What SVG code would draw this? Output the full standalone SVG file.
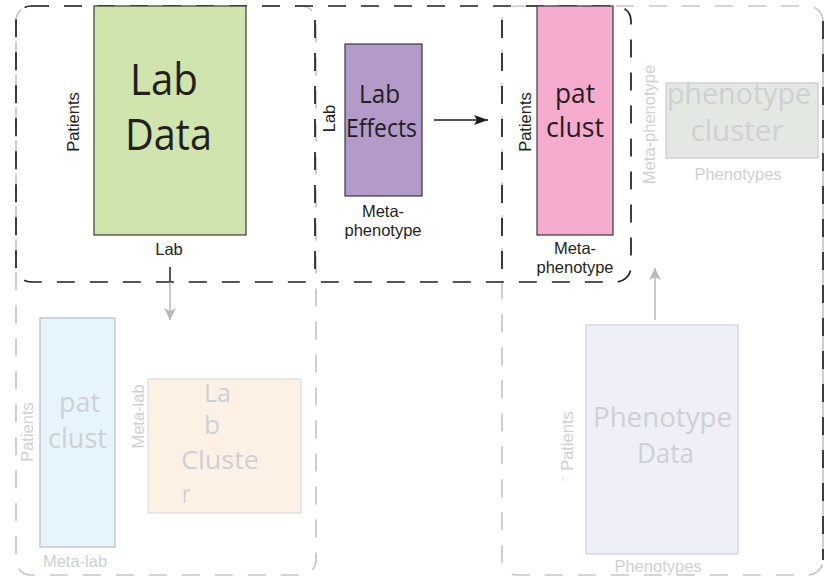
<svg xmlns="http://www.w3.org/2000/svg" width="825" height="578" viewBox="0 0 825 578">
  <style>
    .frame { fill: none; stroke-width: 1.7; stroke-dasharray: 18 15; }
    .dk { stroke: #1e1e1e; }
    .lt { stroke: #c6c6c6; }
    .big { font-family: "Open Sans", "Noto Sans", sans-serif; text-anchor: middle; }
    .lbl { font-family: "Liberation Sans", Arial, sans-serif; font-size: 16.5px; text-anchor: middle; }
    .ink { fill: #231f20; }
    .fade { fill: #cfd0d3; }
    .box { stroke-width: 1.2; }
  </style>
  <defs>
    <marker id="headDark" viewBox="0 0 14 10" refX="14" refY="5" markerWidth="14" markerHeight="10" markerUnits="userSpaceOnUse" orient="auto">
      <path d="M0,0 L14,5 L0,10 L3,5 Z" fill="#1e1e1e"/>
    </marker>
    <marker id="headLight" viewBox="0 0 12 12" refX="12" refY="6" markerWidth="12" markerHeight="12" markerUnits="userSpaceOnUse" orient="auto">
      <path d="M0,0 L12,6 L0,12 L3,6 Z" fill="#b9b9b9"/>
    </marker>
  </defs>

  <rect width="825" height="578" fill="#ffffff"/>

  <!-- dashed grouping frames -->
  <g id="frames">
    <rect class="frame lt" x="16" y="6" width="300" height="569" rx="15"/>
    <rect class="frame lt" x="502" y="6" width="321" height="569" rx="15"/>
    <rect class="frame dk" x="16" y="6" width="615" height="276" rx="15"/>
    <line class="frame dk" x1="315" y1="20" x2="315" y2="282"/>
    <line class="frame dk" x1="502" y1="20" x2="502" y2="282"/>
    <line class="frame dk" x1="823" y1="21" x2="823" y2="560"/>
  </g>

  <!-- connectors -->
  <g id="connectors">
    <line x1="434" y1="120" x2="488" y2="120" stroke="#1e1e1e" stroke-width="1.5" marker-end="url(#headDark)"/>
    <line x1="170" y1="267" x2="170" y2="282" stroke="#1e1e1e" stroke-width="1.5"/>
    <line x1="170" y1="282" x2="170" y2="320" stroke="#b9b9b9" stroke-width="1.5" marker-end="url(#headLight)"/>
    <line x1="655" y1="320" x2="655" y2="268" stroke="#b9b9b9" stroke-width="1.5" marker-end="url(#headLight)"/>
  </g>

  <!-- Lab data matrix -->
  <g id="lab-data">
    <rect class="box" x="94" y="6" width="152" height="229" fill="#cfe5ad" stroke="#3a3a3a"/>
    <text class="big ink" x="164" y="95" font-size="44" textLength="68" lengthAdjust="spacingAndGlyphs">Lab</text>
    <text class="big ink" x="168.5" y="150" font-size="44" textLength="87" lengthAdjust="spacingAndGlyphs">Data</text>
    <text class="lbl ink" transform="translate(79,122) rotate(-90)">Patients</text>
    <text class="lbl ink" x="169" y="255">Lab</text>
  </g>

  <!-- Lab effects matrix -->
  <g id="lab-effects">
    <rect class="box" x="345" y="44" width="77" height="152" fill="#b29ac9" stroke="#3a3a3a"/>
    <text class="big ink" x="379.5" y="103" font-size="26" textLength="41" lengthAdjust="spacingAndGlyphs">Lab</text>
    <text class="big ink" x="381.5" y="137" font-size="26" textLength="71" lengthAdjust="spacingAndGlyphs">Effects</text>
    <text class="lbl ink" transform="translate(335,118.5) rotate(-90)" font-size="16">Lab</text>
    <text class="lbl ink" x="383" y="217" font-size="15">Meta-</text>
    <text class="lbl ink" x="383" y="236" font-size="15">phenotype</text>
  </g>

  <!-- Patient cluster matrix -->
  <g id="pat-clust">
    <rect class="box" x="537" y="6" width="76" height="229" fill="#f5abcd" stroke="#3a3a3a"/>
    <text class="big ink" x="575" y="103" font-size="27" textLength="40" lengthAdjust="spacingAndGlyphs">pat</text>
    <text class="big ink" x="575" y="137" font-size="27" textLength="58" lengthAdjust="spacingAndGlyphs">clust</text>
    <text class="lbl ink" transform="translate(531,122) rotate(-90)">Patients</text>
    <text class="lbl ink" x="575" y="254">Meta-</text>
    <text class="lbl ink" x="575" y="273">phenotype</text>
  </g>

  <!-- Phenotype cluster matrix -->
  <g id="phenotype-cluster">
    <rect class="box" x="666" y="83" width="152" height="75" fill="#e4e8e3" stroke="#c9cac9"/>
    <text class="big fade" x="739" y="104" font-size="28.5" textLength="144" lengthAdjust="spacingAndGlyphs">phenotype</text>
    <text class="big fade" x="737" y="141" font-size="28.5" textLength="93" lengthAdjust="spacingAndGlyphs">cluster</text>
    <text class="lbl fade" transform="translate(654.5,124.5) rotate(-90)" font-size="17">Meta-phenotype</text>
    <text class="lbl fade" x="738" y="180" font-size="17">Phenotypes</text>
  </g>

  <!-- Phenotype data matrix -->
  <g id="phenotype-data">
    <rect class="box" x="586" y="325" width="152" height="229" fill="#efeff8" stroke="#d2d2d6"/>
    <text class="big fade" x="662.5" y="427" font-size="28" textLength="139" lengthAdjust="spacingAndGlyphs">Phenotype</text>
    <text class="big fade" x="665.5" y="463" font-size="28" textLength="57" lengthAdjust="spacingAndGlyphs">Data</text>
    <text class="lbl fade" transform="translate(573,441) rotate(-90)" font-size="17">Patients</text>
    <line x1="563" y1="477" x2="563" y2="481" stroke="#d6d6d6" stroke-width="1"/>
    <text class="lbl fade" x="658" y="572" font-size="17">Phenotypes</text>
  </g>

  <!-- Patient clusters from lab data -->
  <g id="lab-pat-clust">
    <rect class="box" x="40" y="318" width="75" height="229" fill="#e6f5fd" stroke="#b9bcc0"/>
    <text class="big fade" x="79.5" y="412" font-size="27" textLength="41" lengthAdjust="spacingAndGlyphs">pat</text>
    <text class="big fade" x="77.5" y="448" font-size="27" textLength="59" lengthAdjust="spacingAndGlyphs">clust</text>
    <text class="lbl fade" transform="translate(33,432) rotate(-90)" font-size="17">Patients</text>
    <text class="lbl fade" x="75" y="567" font-size="17">Meta-lab</text>
  </g>

  <!-- Lab cluster matrix -->
  <g id="lab-cluster">
    <rect class="box" x="148" y="379" width="153" height="134" fill="#fdf1e6" stroke="#dcdcdc"/>
    <g class="fade" font-family="'Open Sans', 'Noto Sans', sans-serif" font-size="26">
      <text x="204" y="402" textLength="27" lengthAdjust="spacingAndGlyphs">La</text>
      <text x="204" y="434" textLength="16" lengthAdjust="spacingAndGlyphs">b</text>
      <text x="181" y="469" textLength="78" lengthAdjust="spacingAndGlyphs">Cluste</text>
      <text x="182" y="503" textLength="8" lengthAdjust="spacingAndGlyphs">r</text>
    </g>
    <text class="lbl fade" transform="translate(144,416.5) rotate(-90)" font-size="17">Meta-lab</text>
  </g>
</svg>
